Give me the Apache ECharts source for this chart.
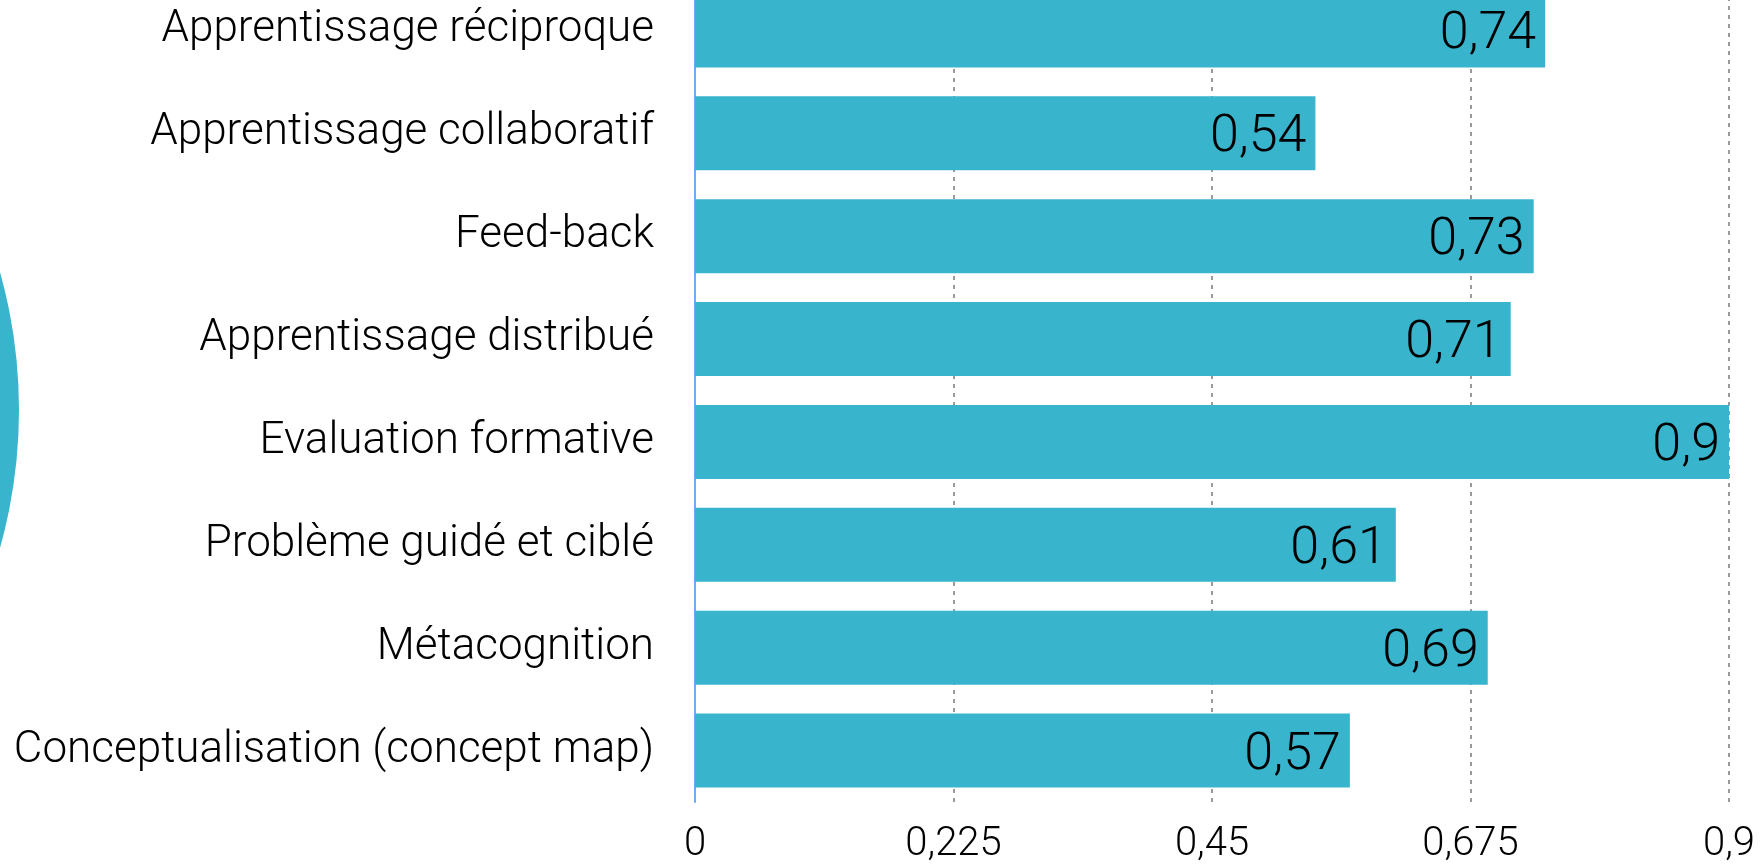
<!DOCTYPE html>
<html>
<head>
<meta charset="utf-8">
<script src="https://cdn.jsdelivr.net/npm/echarts@6/dist/echarts.min.js"></script>
<style>
html,body{margin:0;padding:0;background:#fff;overflow:hidden;width:1764px;height:865px;position:relative;}
#chart{position:absolute;left:0;top:-21px;width:1764px;height:886px;}
</style>
</head>
<body>
<div id="chart"></div>
<script>
const categories = [
  "Apprentissage réciproque",
  "Apprentissage collaboratif",
  "Feed-back",
  "Apprentissage distribué",
  "Evaluation formative",
  "Problème guidé et ciblé",
  "Métacognition",
  "Conceptualisation (concept map)"
];
const values = [0.74, 0.54, 0.73, 0.71, 0.9, 0.61, 0.69, 0.57];
const xTicks = [0, 0.225, 0.45, 0.675, 0.9];

const fmt = v => String(parseFloat(Number(v).toFixed(3))).replace('.', ',');
const FONT = 'Roboto';
const TEAL = '#38b5cd';

const chart = echarts.init(document.getElementById('chart'));
chart.setOption({
  animation: false,
  backgroundColor: '#ffffff',
  grid: { left: 695, right: 35, top: 0, bottom: 58, containLabel: false },
  graphic: [{
    type: 'circle',
    shape: { cx: -492, cy: 431, r: 511 },
    style: { fill: TEAL },
    z: -10
  }],
  xAxis: {
    type: 'value',
    min: xTicks[0],
    max: xTicks[xTicks.length - 1],
    interval: xTicks[1] - xTicks[0],
    axisLine: { show: false },
    axisTick: { show: false },
    splitLine: { show: true, lineStyle: { color: '#9a9a9a', width: 2, type: [4, 5] } },
    axisLabel: {
      formatter: fmt,
      color: '#000',
      fontFamily: FONT,
      fontWeight: 300,
      fontSize: 40,
      margin: 23
    }
  },
  yAxis: {
    type: 'category',
    data: categories,
    inverse: true,
    axisLine: { show: true, lineStyle: { color: '#6aaff5', width: 2 } },
    axisTick: { show: false },
    splitLine: { show: false },
    axisLabel: {
      color: '#000',
      fontFamily: FONT,
      fontWeight: 300,
      fontSize: 44,
      margin: 41,
      lineHeight: 60,
      padding: [12, 0, 0, 0]
    }
  },
  series: [{
    type: 'bar',
    data: values,
    barWidth: 74,
    itemStyle: { color: TEAL },
    label: {
      show: true,
      position: 'insideRight',
      distance: 9,
      offset: [0, 5],
      formatter: p => fmt(p.value),
      color: '#000',
      fontFamily: FONT,
      fontWeight: 300,
      fontSize: 52
    }
  }]
});
</script>
</body>
</html>
